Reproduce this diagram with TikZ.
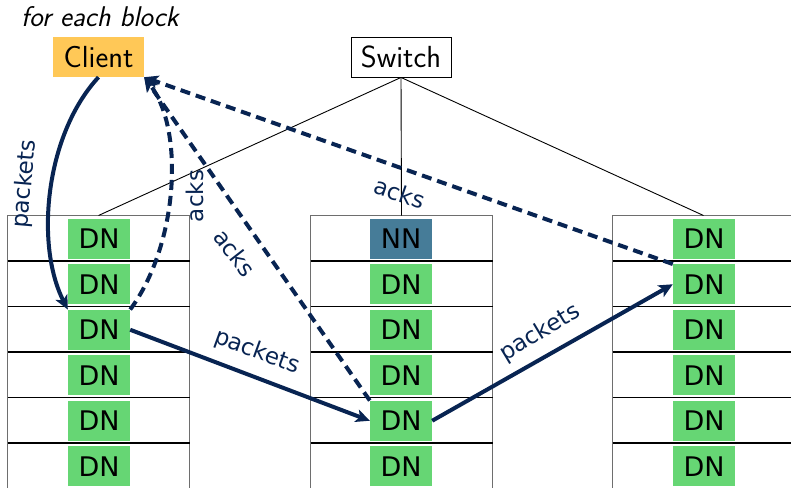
\documentclass[tikz,border=0pt]{standalone}
\usepackage{fontspec}
\newfontfamily\boxfont{DejaVu Sans}
\usetikzlibrary{arrows.meta}
\definecolor{navy}{RGB}{8,36,82}
\definecolor{dngreen}{RGB}{102,214,116}
\definecolor{nnteal}{RGB}{70,124,152}
\definecolor{clientorange}{RGB}{255,200,87}
\definecolor{rackgray}{RGB}{110,110,110}
\tikzset{
  dnbox/.style={fill=dngreen, minimum width=62pt, minimum height=40pt, inner sep=0pt,
    font=\boxfont\fontsize{27}{31}\selectfont},
  nnbox/.style={dnbox, fill=nnteal},
  flow/.style={draw=navy, line width=4pt, -{Stealth[length=14pt,width=13pt,inset=3.5pt]}},
  ack/.style={flow, dash pattern=on 10pt off 6pt},
  lbl/.style={text=navy, font=\boxfont\fontsize{23}{27}\selectfont, inner sep=0pt},
  rackline/.style={draw=black, line width=1.3pt},
  rackedge/.style={draw=rackgray, line width=1.5pt},
  wire/.style={draw=black, line width=0.9pt}
}
\begin{document}
\begin{tikzpicture}[x=1pt,y=-1pt]
\useasboundingbox (0,0) rectangle (791,487);
\clip (0,0) rectangle (791,487);

% three racks: outline, shelf separators, one node per shelf
\foreach \r/\cx in {1/98.5, 2/401.5, 3/703.5} {
  \draw[rackedge] (\cx-91,489) -- (\cx-91,215.5) -- (\cx+91,215.5) -- (\cx+91,489);
  \foreach \k in {1,...,5}
    \draw[rackline] (\cx-91,215.5+45.5*\k) -- (\cx+91,215.5+45.5*\k);
  \coordinate (top\r) at (\cx,215.5);
}

\foreach \r/\cx in {1/99, 3/704} {
  \foreach \k in {1,...,6}
    \node[dnbox] (r\r n\k) at (\cx,238.75+45.5*\k-45.5) {DN};
}
\node[nnbox] (r2n1) at (401,238.75) {NN};
\foreach \k in {2,...,6}
  \node[dnbox] (r2n\k) at (401,238.75+45.5*\k-45.5) {DN};

% top of the tree
\node[draw=black, line width=0.9pt, minimum width=100pt, minimum height=40pt, inner sep=0pt,
  font=\sffamily\fontsize{30.5}{35}\selectfont] (switch) at (401,57) {Switch};
\node[fill=clientorange, minimum width=91pt, minimum height=40pt, inner sep=0pt,
  font=\sffamily\fontsize{30.5}{35}\selectfont] (client) at (98.5,57) {Client};
\node[font=\sffamily\itshape\fontsize{28.5}{33}\selectfont, inner sep=0pt] (caption) at (100,17) {for each block};

\foreach \r in {1,2,3}
  \draw[wire] (switch.south) -- (top\r);

% data path
\draw[flow] (client.south) .. controls (45,135) and (35,245) .. (r1n3.north west);
\draw[flow] (r1n3.east) -- (r2n5.west);
\draw[flow] (r2n5.east) -- (r3n2.west);

% acknowledgements back to the client
\draw[ack] (r1n3.north east) .. controls (178,245) and (185,130) .. (client.south east);
\draw[ack] (r2n5.north west) -- (client.south east);
\draw[ack] (r3n2.north west) -- (client.south east);

% labels
\node[lbl, rotate=85] (lp1) at (25,184) {packets};
\node[lbl, rotate=-20] (lp2) at (257,352) {packets};
\node[lbl, rotate=31] (lp3) at (540,333) {packets};
\node[lbl, rotate=90] (la1) at (195,196) {acks};
\node[lbl, rotate=-52] (la2) at (235,253) {acks};
\node[lbl, rotate=-19] (la3) at (400,193) {acks};
\end{tikzpicture}
\end{document}
